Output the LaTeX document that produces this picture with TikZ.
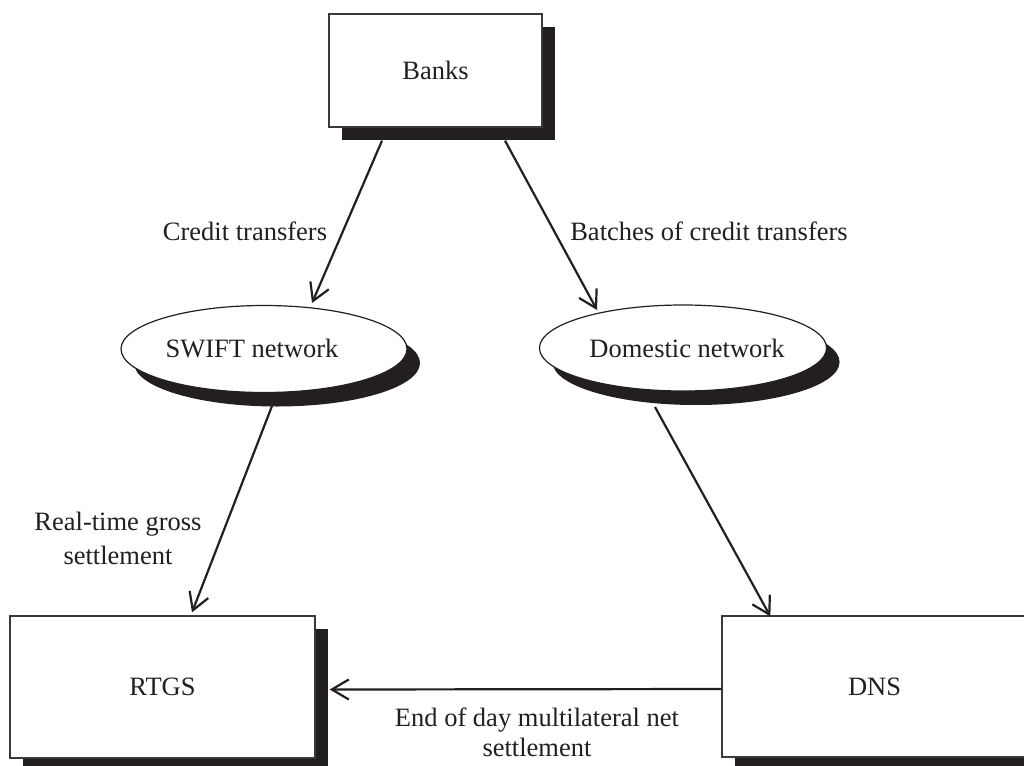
\documentclass[tikz,border=0pt]{standalone}
\usepackage{fontspec}
\setmainfont{Liberation Serif}
\usetikzlibrary{arrows.meta,shapes.geometric,shadows}
\definecolor{ink}{HTML}{231F20}
\definecolor{edge}{HTML}{3A3A3A}
\tikzset{
  box/.style={rectangle, draw=edge, line width=1.3pt, fill=white, inner sep=0pt,
    font=\fontsize{26.5}{30}\selectfont, text=ink,
    drop shadow={shadow xshift=13pt, shadow yshift=-13pt, fill=ink, opacity=1}},
  netw/.style={ellipse, draw=ink, line width=1.2pt, fill=white, inner sep=0pt,
    font=\fontsize{26.5}{30}\selectfont, text=ink,
    drop shadow={shadow xshift=13pt, shadow yshift=-14pt, fill=ink, opacity=1}},
  flow/.style={draw=ink, line width=2.2pt, -{Straight Barb[length=17pt,width=20pt]}},
  lbl/.style={font=\fontsize{26.5}{34}\selectfont, text=ink, align=center, inner sep=0pt}
}
\begin{document}
\begin{tikzpicture}[x=1pt, y=-1pt]
\useasboundingbox (0,0) rectangle (1024,765);
\clip (0,0) rectangle (1024,765);
\fill[white] (0,0) rectangle (1024,765);

% boxes and networks
\node[box, minimum width=213pt, minimum height=113pt] (banks) at (435.5,70.5) {Banks};
\node[netw, minimum width=286pt, minimum height=87pt] (swift) at (264,349) {SWIFT network\hspace*{24pt}};
\node[netw, minimum width=284pt, minimum height=86pt] (domestic) at (683,348) {\hspace*{8pt}Domestic network};
\node[box, minimum width=305pt, minimum height=142pt] (rtgs) at (162.5,687) {RTGS};
\node[box, minimum width=305pt, minimum height=141pt] (dns) at (874.5,686.5) {DNS};

% flows
\draw[flow] ([shift={(-53.5,13)}]banks.south) -- ([shift={(48,-46)}]swift.center);
\draw[flow] ([shift={(69.5,13)}]banks.south) -- ([shift={(-86,-38)}]domestic.center);
\draw[flow] ([shift={(8,57)}]swift.center) -- ([shift={(29.5,-3)}]rtgs.north);
\draw[flow] ([shift={(-28,59)}]domestic.center) -- ([shift={(49,1)}]dns.north west);
\draw[flow] ([shift={(0,2.5)}]dns.west) -- ([shift={(14,2.5)}]rtgs.east);

% labels
\node[lbl] (lcredit) at (245,231) {Credit transfers};
\node[lbl] (lbatch) at (709,231) {Batches of credit transfers};
\node[lbl] (lrtgs) at (118,538) {Real-time gross\\settlement};
\node[lbl, font=\fontsize{26.5}{30}\selectfont] (lnet) at (537,732) {End of day multilateral net\\settlement};
\end{tikzpicture}
\end{document}
